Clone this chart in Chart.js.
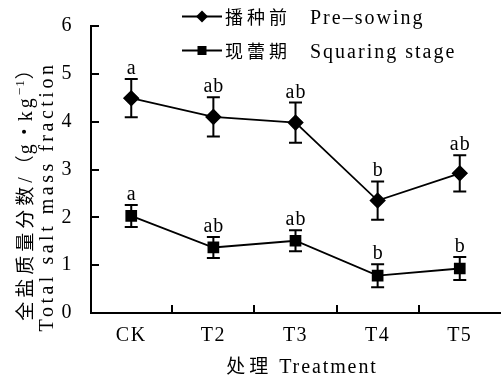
<!DOCTYPE html>
<html><head><meta charset="utf-8">
<script src="https://cdn.jsdelivr.net/npm/chart.js@4/dist/chart.umd.min.js"></script>
<style>html,body{margin:0;padding:0;background:#fff}#wrap{width:501px;height:379px;overflow:hidden}</style>
</head><body><div id="wrap"><canvas id="c" width="501" height="379"></canvas></div>
<script>
// ---- data ----
const categories = ['CK', 'T2', 'T3', 'T4', 'T5'];
const preSowing = [4.49, 4.10, 3.98, 2.35, 2.92];
const preSowingErr = [0.40, 0.41, 0.42, 0.40, 0.38];
const preSowingLetters = ['a', 'ab', 'ab', 'b', 'ab'];
const squaring = [2.03, 1.37, 1.51, 0.78, 0.93];
const squaringErr = [0.23, 0.22, 0.22, 0.24, 0.24];
const squaringLetters = ['a', 'ab', 'ab', 'b', 'b'];
const yTicks = [0, 1, 2, 3, 4, 5, 6];
const seriesNamesZh = ['播种前', '现蕾期'];
const seriesNamesEn = ['Pre\u2013sowing', 'Squaring stage'];
const xTitleZh = '处理';
const xTitleEn = 'Treatment';
const yTitleZh = '全盐质量分数';
const yTitleUnit = ['/', '（', 'g', '·', 'kg', '\u22121', '）'];
const yTitleEn = 'Total salt mass fraction';

const SERIF = '"Liberation Serif", "Times New Roman", serif';
const CJK = '"Noto Sans CJK SC", "Noto Sans CJK JP", sans-serif';

function runsWidth(ctx, runs) {
  let w = 0;
  for (const r of runs) { ctx.font = r.font; ctx.letterSpacing = (r.sp || 0) + 'px'; w += ctx.measureText(r.t).width; }
  return w;
}
function drawRuns(ctx, runs, x, baseY) {
  for (const r of runs) {
    ctx.font = r.font; ctx.letterSpacing = (r.sp || 0) + 'px';
    ctx.fillText(r.t, x, baseY + (r.dy || 0));
    x += ctx.measureText(r.t).width;
  }
}

const extras = {
  id: 'extras',
  beforeDraw(chart) {
    chart.ctx.letterSpacing = '1.5px';
  },
  beforeDatasetsDraw(chart) {
    const ctx = chart.ctx, y = chart.scales.y;
    const vals = [preSowing, squaring];
    const errs = [preSowingErr, squaringErr];
    ctx.save();
    ctx.strokeStyle = '#000'; ctx.lineWidth = 2;
    chart.data.datasets.forEach((ds, di) => {
      const meta = chart.getDatasetMeta(di);
      meta.data.forEach((pt, i) => {
        const v = vals[di][i], e = errs[di][i];
        const t = y.getPixelForValue(v + e), b = y.getPixelForValue(v - e);
        ctx.beginPath();
        ctx.moveTo(pt.x, t); ctx.lineTo(pt.x, b);
        ctx.moveTo(pt.x - 6.5, t); ctx.lineTo(pt.x + 6.5, t);
        ctx.moveTo(pt.x - 6.5, b); ctx.lineTo(pt.x + 6.5, b);
        ctx.stroke();
      });
    });
    ctx.restore();
  },
  afterDatasetsDraw(chart) {
    const ctx = chart.ctx, y = chart.scales.y, x = chart.scales.x, ca = chart.chartArea;
    const vals = [preSowing, squaring];
    const errs = [preSowingErr, squaringErr];
    const letters = [preSowingLetters, squaringLetters];
    ctx.save();
    ctx.fillStyle = '#000'; ctx.strokeStyle = '#000';
    // significance letters
    ctx.textAlign = 'center'; ctx.textBaseline = 'alphabetic';
    ctx.font = '20px ' + SERIF; ctx.letterSpacing = '1px';
    chart.data.datasets.forEach((ds, di) => {
      const meta = chart.getDatasetMeta(di);
      meta.data.forEach((pt, i) => {
        const t = y.getPixelForValue(vals[di][i] + errs[di][i]);
        ctx.fillText(letters[di][i], pt.x + 0.5, t - 5);
      });
    });
    // inward ticks + x-axis line running to the edge
    ctx.lineWidth = 2;
    ctx.beginPath();
    yTicks.forEach(v => {
      const py = Math.round(y.getPixelForValue(v));
      ctx.moveTo(ca.left, py); ctx.lineTo(ca.left + 8, py);
    });
    for (let i = 0; i < categories.length - 1; i++) {
      const px = Math.round(x.getPixelForValue(i + 0.5));
      ctx.moveTo(px, ca.bottom); ctx.lineTo(px, ca.bottom - 8);
    }
    ctx.moveTo(ca.right - 1, Math.round(ca.bottom)); ctx.lineTo(chart.width, Math.round(ca.bottom));
    ctx.stroke();
    // legend
    const rows = [{y: 16.5, style: 'diamond'}, {y: 50.5, style: 'square'}];
    rows.forEach((r, i) => {
      ctx.lineWidth = 2;
      ctx.beginPath(); ctx.moveTo(182, r.y); ctx.lineTo(222, r.y); ctx.stroke();
      ctx.beginPath();
      if (r.style === 'diamond') {
        ctx.moveTo(202, r.y - 6); ctx.lineTo(208, r.y); ctx.lineTo(202, r.y + 6); ctx.lineTo(196, r.y);
      } else {
        ctx.rect(197.5, r.y - 4.5, 9, 9);
      }
      ctx.fill();
      ctx.textAlign = 'left';
      drawRuns(ctx, [{t: seriesNamesZh[i], font: '18px ' + CJK, sp: 4}], 225, r.y + 7);
      drawRuns(ctx, [{t: seriesNamesEn[i], font: '20px ' + SERIF, sp: 2}], 310, r.y + 7);
    });
    // x title
    const xr = [{t: xTitleZh, font: '19px ' + CJK, sp: 4}, {t: ' ' + xTitleEn, font: '20px ' + SERIF, sp: 1.9}];
    ctx.textAlign = 'left';
    drawRuns(ctx, xr, 302 - runsWidth(ctx, xr) / 2, 373);
    // y title (rotated)
    const zr = [{t: yTitleZh, font: '19px ' + CJK, sp: 4}];
    yTitleUnit.forEach(t => {
      if (t === '\u22121') zr.push({t, font: '13px ' + SERIF, sp: 1, dy: -8});
      else if (t === '（' || t === '）' || t === '·') zr.push({t, font: '19px ' + CJK, sp: 1});
      else zr.push({t, font: '20px ' + SERIF, sp: 3});
    });
    const er = [{t: yTitleEn, font: '20px ' + SERIF, sp: 3.5}];
    ctx.save();
    ctx.translate(32, 190); ctx.rotate(-Math.PI / 2);
    drawRuns(ctx, zr, -runsWidth(ctx, zr) / 2, 0);
    ctx.restore();
    ctx.save();
    ctx.translate(53, 196.5); ctx.rotate(-Math.PI / 2);
    drawRuns(ctx, er, -runsWidth(ctx, er) / 2, 0);
    ctx.restore();
    ctx.restore();
  }
};

new Chart(document.getElementById('c'), {
  type: 'line',
  data: {
    datasets: [
      {label: seriesNamesZh[0] + ' ' + seriesNamesEn[0], data: preSowing.map((v, i) => ({x: i, y: v})),
       borderColor: '#000', backgroundColor: '#000',
       borderWidth: 1.8, pointStyle: 'rectRot', pointRadius: 7, pointHoverRadius: 7, tension: 0},
      {label: seriesNamesZh[1] + ' ' + seriesNamesEn[1], data: squaring.map((v, i) => ({x: i, y: v})),
       borderColor: '#000', backgroundColor: '#000',
       borderWidth: 1.8, pointStyle: 'rect', pointRadius: 7, pointHoverRadius: 7, tension: 0}
    ]
  },
  options: {
    responsive: false, animation: false, devicePixelRatio: 1,
    layout: {padding: {top: 26, right: 0, left: 0, bottom: 0}},
    plugins: {legend: {display: false}, tooltip: {enabled: false}},
    events: [],
    scales: {
      x: {
        type: 'linear', min: -0.49, max: 4.395,
        grid: {display: false},
        border: {display: true, color: '#000', width: 2},
        afterBuildTicks(s) { s.ticks = categories.map((c, i) => ({value: i})); },
        ticks: {color: '#000', font: {family: SERIF, size: 20}, padding: 3, maxRotation: 0, autoSkip: false,
                callback: (v) => categories[v]},
        afterFit(s) { s.height = 66; s.paddingLeft = 0; s.paddingRight = 0; }
      },
      y: {
        min: 0, max: 6,
        grid: {display: false},
        border: {display: true, color: '#000', width: 2},
        afterBuildTicks(s) { s.ticks = yTicks.map(v => ({value: v})); },
        ticks: {color: '#000', font: {family: SERIF, size: 20}, padding: 10},
        afterFit(s) { s.width = 91; s.paddingTop = 0; s.paddingBottom = 0; }
      }
    }
  },
  plugins: [extras]
});
</script>
</body></html>
